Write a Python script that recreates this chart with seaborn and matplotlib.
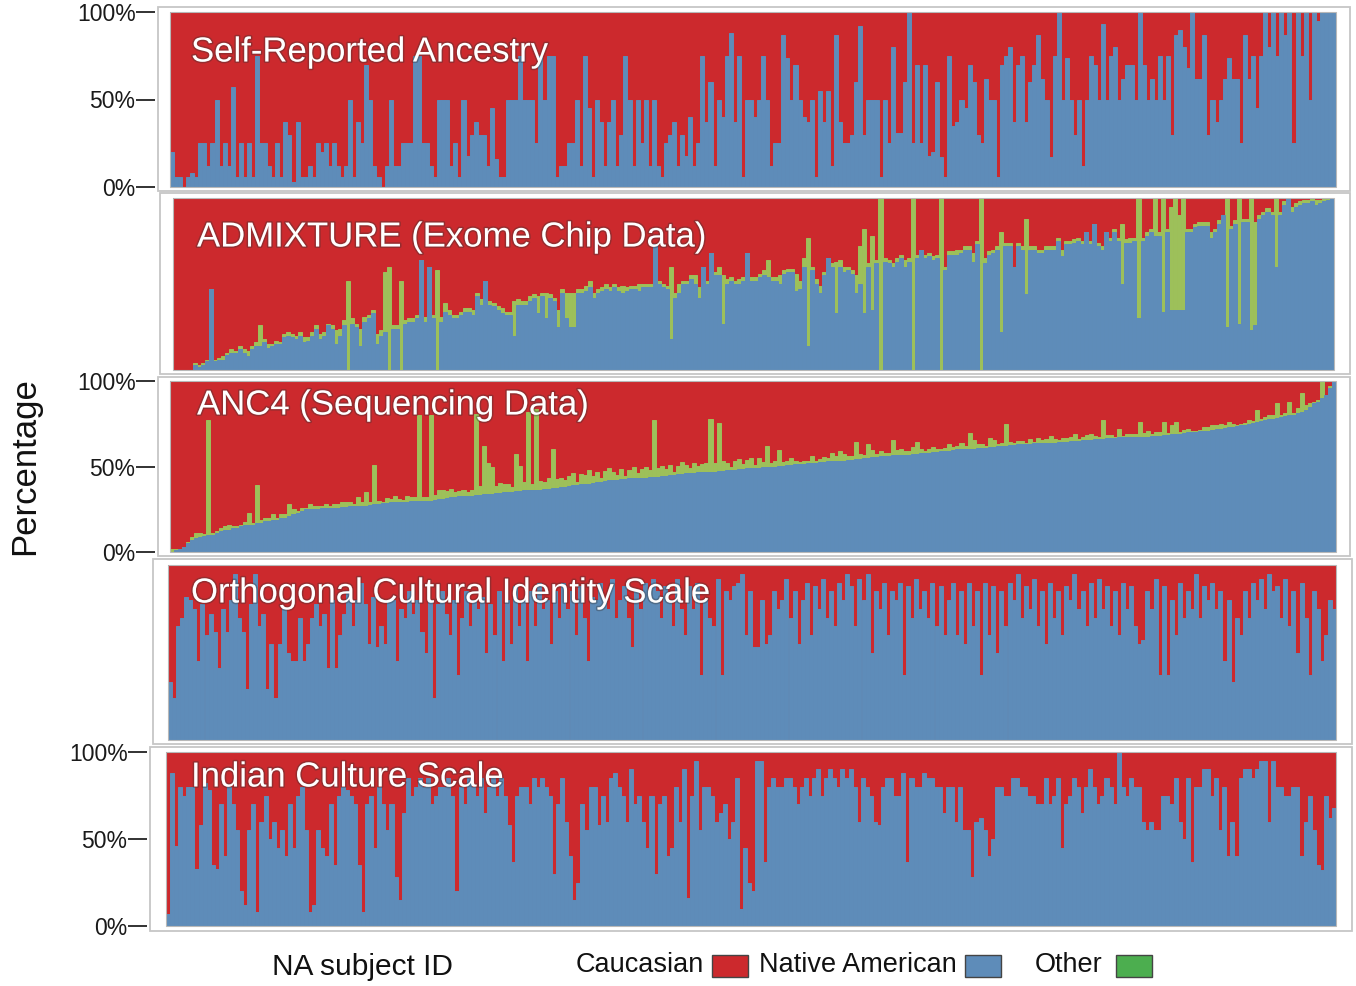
import numpy as np
import pandas as pd
import matplotlib
matplotlib.use("Agg")
import matplotlib.pyplot as plt
import matplotlib.patheffects as pe
from matplotlib.patches import Rectangle
import seaborn as sns

# ---------------- data: fraction of each ancestry per subject ----------------
# Self-reported ancestry (Native American share; rest Caucasian)
SELF_NA = [
    .20,.06,.06,0,.06,.08,.06,.25,.25,.12,.25,.50,.12,.25,.12,.57,.06,.25,.06,.25,.06,.75,.25,.25,
    .12,.06,.25,.06,.37,.30,.03,.37,.06,.06,.12,.06,.25,.20,.25,.12,.25,.12,.06,.12,.50,.06,.37,.25,
    .70,.50,.12,.06,0,.12,.50,.12,.12,.25,.25,.25,.75,.75,.25,.25,.12,.06,.50,.50,.50,.12,.25,.06,
    .50,.18,.30,.37,.30,.30,.12,.45,.16,.06,.06,.50,.50,.50,.75,.50,.50,.50,.25,.75,.50,.75,.75,.06,
    .12,.12,.25,.25,.50,.12,.75,.45,.06,.50,.37,.12,.37,.50,.12,.30,.75,.50,.12,.50,.25,.50,.12,.50,
    .12,.06,.25,.30,.37,.12,.30,.18,.40,.12,.25,.75,.37,.60,.12,.50,.40,.75,.88,.37,.75,.06,.50,.50,
    .40,.50,.75,.50,.12,.25,.25,.87,.74,.50,.70,.50,.40,.37,.50,.06,.55,.37,.55,.12,.87,.37,.25,.25,
    .30,.60,.92,.30,.50,.50,.50,.06,.50,.25,.80,.31,.31,.60,1,.25,.70,.25,.70,.18,.20,.60,.17,.06,
    .75,.35,.37,.50,.45,.70,.60,.30,.25,.62,.50,.50,.06,.70,.75,.80,.37,.70,.75,.37,.60,.70,.87,.62,
    .50,.17,.75,1,.50,.74,.50,.30,.50,.12,.50,.75,.70,.50,.93,.50,.75,.80,.50,.62,.70,.70,.50,1,
    .70,.50,.62,.50,.75,.50,.75,.30,.87,.90,.80,.68,1,.62,.62,.87,.30,.50,.37,.50,.62,.74,.62,.62,
    .25,.87,.62,.75,.45,.75,1,.80,1,.75,1,.87,1,.25,1,.75,1,.50,1,.95,1,1,1,1,
]

# ADMIXTURE on exome chip data
ADMIX_NA = [
    0,0,0,0,0,.03,.02,.03,.05,.47,.05,.06,.06,.09,.10,.10,.12,.10,.08,.12,.14,.14,.16,.13,
    .14,.15,.15,.19,.20,.19,.18,.20,.16,.17,.20,.24,.18,.20,.26,.24,.15,.20,.26,0,.27,.25,.14,.28,
    .30,.33,.15,.20,.22,0,.24,.24,0,.27,.28,.28,.30,.64,.28,.60,.30,0,.28,.34,.32,.30,.30,.32,
    .34,.34,.32,.43,.38,.52,.38,.37,.35,.33,.32,.32,.20,.38,.38,.38,.40,.42,.33,.43,.30,.42,.40,.25,
    .45,.30,.25,.25,.45,.45,.46,.48,.42,.45,.46,.47,.46,.48,.46,.45,.46,.47,.47,.46,.48,.48,.48,.73,
    .50,.48,.47,.18,.42,.45,.50,.50,.53,.50,.42,.60,.50,.68,.55,.55,.27,.50,.52,.50,.50,.52,.68,.52,
    .52,.54,.55,.54,.52,.52,.50,.56,.57,.57,.46,.47,.60,.14,.58,.50,.45,.55,.65,.60,.33,.60,.57,.58,
    .56,.45,.50,.33,.60,.35,.62,0,.63,.62,.60,.63,.65,.60,.63,0,.65,.70,.65,.66,.64,.65,0,.58,
    .67,.67,.67,.68,.70,.70,.63,.73,0,.62,.67,.68,.70,.22,.72,.72,.60,.72,.70,.44,.70,.70,.68,.68,
    .70,.70,.70,.75,.66,.73,.73,.74,.75,.73,.80,.73,.85,.72,.70,.80,.75,.80,.75,.50,.74,.74,.75,.30,
    .75,.78,.80,.78,.78,.34,.80,.35,.35,.35,.35,.80,.80,.83,.84,.84,.84,.77,.80,.85,.90,.25,.82,.85,
    .27,.86,.86,.23,.26,.88,.90,.92,.90,.60,.90,.96,1,.92,.95,.96,.97,.97,.98,.96,.97,.98,.99,1,
]
ADMIX_OTHER = [
    0,0,0,0,0,.01,.01,.01,.01,0,.01,.01,.02,.01,.02,.01,.02,.02,.03,.02,.02,.12,.02,.02,
    .01,.02,.01,.02,.02,.02,.02,.02,.03,.02,.02,.02,.03,.02,.01,.02,.08,.04,.03,.52,.03,.02,.10,.03,
    .02,.02,.06,.03,.35,.60,.02,.02,.52,.02,.02,.02,.02,0,.03,0,.02,.58,.03,.05,.03,.02,.02,.02,
    .02,.02,.03,.02,.03,0,.02,.02,.02,.03,.02,.02,.20,.03,.02,.02,.03,.02,.10,.02,.15,.02,.02,.10,
    .02,.15,.20,.20,.02,.02,.03,.04,.03,.02,.02,.03,.02,.02,.02,.04,.02,.02,.02,.04,.02,.02,.02,0,
    .02,.02,.02,.42,.03,.05,.02,.02,.02,.05,.06,0,.02,0,.02,.05,.28,.03,.02,.02,.03,.02,0,.02,
    .02,.02,.03,.10,.02,.02,.05,.02,.02,.02,.10,.05,.05,.63,.02,.03,.04,.02,0,.02,.30,.04,.03,.02,
    .02,.10,.22,.49,.02,.43,.02,1,.02,.02,.02,.02,.02,.04,.02,1,.02,0,.02,.02,.02,.02,1,.02,
    .02,.02,.03,.02,.02,.02,.05,.02,1,.03,.02,.02,.02,.58,.02,.02,0,.02,.02,.44,.02,.02,.02,.02,
    .02,.02,.02,.02,.04,.02,.02,.02,.02,.02,0,.02,0,.02,.02,0,.02,.02,.02,.35,.02,.03,.02,.70,
    .02,.02,.02,.22,.02,.66,.02,.60,.65,.55,.65,.02,.02,.02,.02,.02,.02,.03,.02,.02,0,.75,.02,.02,
    .73,.02,.02,.77,.60,.02,.02,.02,.02,.40,.02,.02,0,.03,.02,.02,.02,.02,.02,.03,.02,.02,.01,0,
]

# ANC4 on sequencing data
ANC4_NA = [
    0,.01,.02,.03,.05,.07,.08,.09,.095,.10,.10,.11,.12,.13,.13,.14,.14,.15,.155,.16,.16,.17,.17,.18,
    .18,.19,.19,.20,.20,.21,.22,.23,.24,.25,.25,.25,.25,.26,.26,.26,.26,.26,.265,.265,.27,.27,.27,.27,
    .27,.275,.28,.28,.285,.285,.29,.29,.29,.295,.295,.30,.30,.30,.30,.30,.30,.305,.31,.31,.315,.32,.32,.325,
    .33,.33,.33,.335,.335,.34,.34,.34,.345,.345,.35,.35,.35,.355,.355,.36,.36,.36,.365,.365,.37,.37,.375,.375,
    .38,.38,.385,.39,.39,.395,.40,.40,.405,.41,.41,.415,.42,.42,.42,.425,.425,.43,.43,.43,.435,.435,.44,.44,
    .44,.445,.445,.45,.45,.455,.455,.46,.46,.46,.465,.465,.47,.47,.47,.475,.475,.48,.48,.48,.485,.485,.49,.49,
    .49,.49,.495,.50,.50,.50,.505,.505,.51,.51,.515,.515,.515,.52,.52,.52,.525,.525,.53,.53,.53,.535,.535,.54,
    .54,.545,.545,.55,.55,.555,.555,.56,.56,.56,.565,.565,.57,.57,.57,.575,.575,.58,.58,.58,.585,.585,.59,.59,
    .59,.595,.60,.60,.60,.605,.605,.61,.61,.61,.615,.615,.62,.62,.62,.625,.625,.63,.63,.63,.63,.635,.635,.635,
    .64,.64,.64,.645,.645,.645,.65,.65,.65,.655,.655,.655,.66,.66,.66,.665,.665,.665,.67,.67,.67,.67,.67,.67,
    .675,.675,.68,.68,.68,.685,.685,.69,.69,.69,.695,.70,.70,.70,.705,.71,.71,.715,.72,.72,.725,.73,.73,.735,
    .74,.745,.75,.755,.76,.765,.77,.775,.78,.785,.79,.795,.80,.80,.81,.82,.83,.85,.87,.88,.90,.92,.96,1.0,
]
ANC4_OTHER = [
    .02,.01,0,0,.01,.02,.03,.02,.01,.67,.01,.01,.02,.02,.03,.01,.01,.01,.02,.07,.01,.22,.02,.02,
    .02,.03,.01,.02,.02,.07,.03,.01,.02,.01,.03,.02,.02,.01,.02,.01,.02,.02,.025,.03,.02,.01,.05,.02,
    .08,.02,.23,.02,.01,.03,.02,.04,.02,.01,.03,.02,.02,.50,.02,.02,.50,.03,.05,.05,.04,.05,.03,.03,
    .03,.02,.03,.47,.05,.28,.18,.16,.04,.06,.05,.05,.03,.22,.15,.05,.46,.04,.47,.05,.04,.06,.23,.05,
    .05,.04,.06,.07,.02,.06,.05,.08,.04,.06,.02,.06,.07,.05,.03,.06,.02,.05,.07,.03,.05,.06,.04,.33,
    .05,.06,.04,.06,.02,.05,.07,.05,.03,.06,.04,.05,.05,.31,.05,.28,.06,.04,.02,.05,.06,.03,.05,.06,
    .02,.06,.03,.12,.02,.03,.09,.02,.02,.04,.02,.01,.02,.01,.04,.01,.02,.03,.02,.05,.03,.055,.04,.02,
    .02,.10,.03,.02,.08,.04,.02,.03,.02,.02,.09,.03,.03,.02,.02,.04,.07,.02,.01,.02,.03,.02,.01,.02,
    .04,.02,.02,.04,.02,.09,.05,.02,.02,.01,.05,.04,.01,.02,.13,.02,.01,.02,.02,.01,.03,.01,.03,.02,
    .02,.04,.02,.01,.02,.02,.02,.04,.01,.02,.03,.035,.02,.01,.11,.02,.02,.01,.05,.01,.02,.02,.02,.09,
    .02,.035,.01,.02,.02,.075,.01,.05,.07,.01,.02,.02,.01,.01,.01,.02,.02,.025,.02,.03,.02,.03,.02,.01,
    .01,.01,.02,.01,.07,.01,.02,.025,.02,.085,.01,.02,.08,.01,.03,.11,.03,.02,.01,.01,.10,0,.01,0,
]

# Orthogonal Cultural Identity Scale
OCIS_NA = [
    .33,.24,.65,.70,.82,.80,.75,.45,.78,.60,.72,.62,.41,.75,.62,.80,.95,.70,.62,.29,.78,.95,.65,.72,
    .29,.55,.24,.55,.75,.50,.45,.45,.70,.45,.55,.70,.78,.65,.72,.41,.80,.41,.60,.72,.85,.65,.80,.90,
    .78,.55,.82,.53,.65,.55,.80,.80,.45,.75,.70,.85,.72,.80,.62,.50,.80,.24,.78,.85,.72,.60,.80,.37,
    .70,.85,.65,.80,.75,.82,.50,.78,.60,.85,.45,.80,.55,.88,.65,.80,.45,.85,.65,.90,.75,.80,.55,.85,
    .70,.90,.75,.85,.60,.88,.70,.45,.82,.80,.90,.80,.75,.92,.70,.80,.88,.70,.53,.85,.75,.90,.85,.92,
    .85,.70,.88,.80,.65,.92,.75,.60,.88,.75,.90,.37,.80,.70,.65,.92,.37,.85,.80,.88,.90,.95,.60,.85,
    .53,.53,.80,.55,.60,.85,.75,.80,.92,.70,.85,.55,.80,.90,.60,.88,.75,.92,.70,.85,.65,.90,.80,.95,
    .88,.65,.92,.80,.95,.50,.85,.75,.90,.60,.85,.80,.90,.37,.88,.70,.92,.75,.85,.70,.90,.65,.88,.60,
    .80,.90,.60,.85,.55,.90,.65,.85,.37,.90,.60,.88,.50,.85,.65,.90,.80,.95,.70,.88,.75,.92,.65,.85,
    .55,.90,.70,.85,.60,.88,.80,.95,.75,.85,.65,.90,.70,.92,.75,.88,.65,.85,.60,.90,.75,.88,.65,.55,
    .57,.85,.75,.92,.37,.88,.37,.80,.60,.90,.70,.85,.75,.95,.70,.88,.80,.90,.75,.85,.45,.80,.33,.70,
    .60,.85,.70,.90,.80,.92,.75,.95,.85,.88,.70,.92,.65,.85,.50,.90,.70,.37,.85,.75,.45,.60,.80,.75,
]

# Indian Culture Scale
ICS_NA = [
    .07,.88,.46,.80,.75,.80,.80,.33,.58,.82,.78,.35,.33,.70,.40,.80,.70,.55,.20,.12,.55,.70,.08,.60,
    .75,.50,.60,.45,.55,.40,.70,.45,.75,.80,.55,.08,.12,.55,.45,.40,.70,.35,.75,.80,.78,.75,.70,.35,
    .08,.70,.75,.45,.80,.70,.55,.70,.28,.15,.65,.85,.75,.80,.85,.80,.85,.70,.75,.80,.80,.85,.75,.20,
    .80,.70,.85,.80,.75,.85,.65,.80,.85,.75,.85,.75,.58,.37,.75,.80,.80,.70,.85,.80,.85,.80,.75,.30,
    .70,.85,.60,.40,.15,.25,.70,.55,.80,.80,.58,.75,.60,.85,.88,.80,.75,.60,.90,.70,.75,.60,.45,.75,
    .30,.70,.75,.40,.45,.80,.60,.90,.16,.75,.95,.55,.80,.80,.75,.60,.65,.70,.50,.60,.85,.10,.45,.25,
    .20,.95,.95,.37,.80,.85,.80,.80,.85,.85,.80,.70,.80,.85,.75,.85,.90,.75,.85,.90,.85,.80,.90,.85,
    .90,.80,.60,.85,.80,.75,.60,.58,.80,.85,.85,.75,.75,.88,.37,.85,.80,.80,.88,.85,.85,.80,.80,.65,
    .80,.80,.60,.80,.55,.55,.28,.60,.62,.55,.40,.50,.80,.80,.75,.75,.85,.85,.80,.80,.75,.75,.70,.70,
    .85,.70,.75,.85,.45,.70,.75,.85,.80,.65,.80,.90,.80,.70,.75,.85,.80,.70,1.0,.80,.75,.85,.80,.80,
    .60,.55,.60,.55,.55,.75,.75,.70,.85,.60,.50,.85,.37,.80,.80,.90,.90,.75,.85,.55,.80,.40,.60,.40,
    .85,.90,.90,.85,.90,.95,.95,.60,.95,.80,.80,.75,.75,.80,.80,.40,.60,.75,.55,.35,.32,.75,.62,.68,
]

PANEL_TITLES = [
    "Self-Reported Ancestry",
    "ADMIXTURE (Exome Chip Data)",
    "ANC4 (Sequencing Data)",
    "Orthogonal Cultural Identity Scale",
    "Indian Culture Scale",
]
TICK_VALUES = [0, 50, 100]
TICK_LABELS = ["0%", "50%", "100%"]
LEGEND_LABELS = ["Caucasian", "Native American", "Other"]

# ---------------- styling ----------------
RED = "#cc292d"
BLUE = "#5e8cb9"
LIME = "#9dc05a"
KEY_GREEN = "#4cae4f"
FRAME = "#c6c6c6"

sns.set_theme(style="white")
plt.rcParams["font.family"] = ["Liberation Sans", "DejaVu Sans"]

W, H = 1356, 986
fig = plt.figure(figsize=(W / 100, H / 100), dpi=100)


def fig_box(l, t, r, b):
    return [l / W, 1 - b / H, (r - l) / W, (b - t) / H]


# (native, other, axes box, outer frame box, show tick labels, outward offset px, title anchor)
layout = [
    (SELF_NA, None, (170, 12, 1336, 187), (158, 7, 1350, 191), True, 15, (191, 52)),
    (ADMIX_NA, ADMIX_OTHER, (173, 198, 1334, 370), (160, 193, 1350, 374), False, 0, (197, 237)),
    (ANC4_NA, ANC4_OTHER, (170, 381, 1336, 552), (158, 377, 1350, 556), True, 15, (197, 405)),
    (OCIS_NA, None, (168, 565, 1336, 740), (153, 559, 1352, 744), False, 0, (191, 593)),
    (ICS_NA, None, (166, 752, 1336, 926), (150, 747, 1352, 931), True, 19, (191, 777)),
]

for (native, other, abox, fbox, labelled, offset, tpos), title in zip(layout, PANEL_TITLES):
    l, t, r, b = fbox
    fig.patches.append(Rectangle((l / W, 1 - b / H), (r - l) / W, (b - t) / H,
                                 transform=fig.transFigure, fill=False,
                                 edgecolor=FRAME, linewidth=1.3, zorder=0))
    ax = fig.add_axes(fig_box(*abox))
    ax.set_facecolor(RED)

    na = np.asarray(native, dtype=float)
    ot = np.zeros_like(na) if other is None else np.asarray(other, dtype=float)
    n = min(len(na), len(ot))
    df = pd.DataFrame({
        "subject": np.arange(n),
        "caucasian": np.full(n, 100.0),
        "na_other": (na[:n] + ot[:n]) * 100,
        "native": na[:n] * 100,
    })

    # stacked composition: full bar (Caucasian), then Other + Native, then Native
    kw = dict(data=df, x="subject", width=1.0, saturation=1, errorbar=None,
              linewidth=0.7, ax=ax)
    sns.barplot(y="caucasian", color=RED, edgecolor=RED, **kw)
    if other is not None:
        sns.barplot(y="na_other", color=LIME, edgecolor=LIME, **kw)
    sns.barplot(y="native", color=BLUE, edgecolor=BLUE, **kw)

    ax.set_xlim(-0.5, n - 0.5)
    ax.set_ylim(0, 100)
    ax.set_xticks([])
    ax.set_xlabel("")
    ax.set_ylabel("")
    for side in ["top", "right", "bottom", "left"]:
        ax.spines[side].set_visible(False)
    ax.add_patch(Rectangle((0, 0), 1, 1, transform=ax.transAxes, fill=False,
                           edgecolor="#b8b8b8", linewidth=0.8, clip_on=False, zorder=5))

    if labelled:
        ax.spines["left"].set_position(("outward", offset * 0.72))
        ax.set_yticks(TICK_VALUES)
        ax.set_yticklabels(TICK_LABELS)
        ax.tick_params(axis="y", left=True, direction="out", length=13.5, width=1.3,
                       color="#222222", labelsize=16.5, labelcolor="#1a1a1a", pad=0.5)
    else:
        ax.set_yticks([50])
        ax.set_yticklabels([""])
        ax.tick_params(axis="y", left=True, direction="in", length=3, width=0.8,
                       color="#9a9a9a")

    fig.text(tpos[0] / W, 1 - tpos[1] / H, title, color="white", fontsize=25,
             ha="left", va="center", zorder=10,
             path_effects=[pe.withStroke(linewidth=2.2, foreground="#333333", alpha=0.35)])

# axis caption and legend strip
fig.text(25 / W, 1 - 466 / H, "Percentage", rotation=90, fontsize=25,
         ha="center", va="center", color="#111111")
fig.text(362 / W, 1 - 967 / H, "NA subject ID", fontsize=21.5,
         ha="center", va="center", color="#111111")

legend_items = [
    (LEGEND_LABELS[0], RED, 576, 712),
    (LEGEND_LABELS[1], BLUE, 759, 965),
    (LEGEND_LABELS[2], KEY_GREEN, 1035, 1116),
]
for label, col, tx, bx in legend_items:
    fig.text(tx / W, 1 - 965 / H, label, fontsize=19.5, ha="left", va="center",
             color="#111111")
    fig.patches.append(Rectangle((bx / W, 1 - 977 / H), 36 / W, 22 / H,
                                 transform=fig.transFigure, facecolor=col,
                                 edgecolor="#444444", linewidth=1.0))

fig.savefig("out.png", dpi=100)
